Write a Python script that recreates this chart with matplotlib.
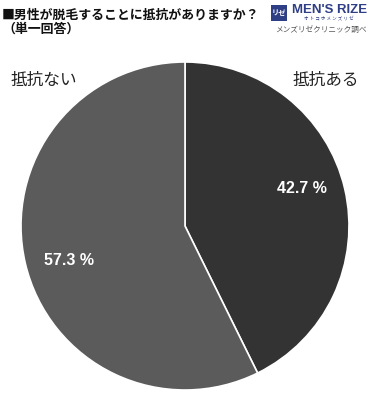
import matplotlib
matplotlib.use('Agg')
import matplotlib.pyplot as plt
from matplotlib.patches import FancyBboxPatch

plt.rcParams['font.family']=['Noto Sans CJK JP','DejaVu Sans']

labels=['抵抗ある','抵抗ない']
values=[42.7,57.3]
colors=['#333333','#5b5b5b']
title='■男性が脱毛することに抵抗がありますか？'
subtitle='（単一回答）'
source='メンズリゼクリニック調べ'

W,H=370,400
fig=plt.figure(figsize=(W/100,H/100),dpi=100)
cx,cy,r=185,226,164
ax=fig.add_axes([(cx-r)/W,(H-cy-r)/H,2*r/W,2*r/H])
wedges,_,autotexts=ax.pie(values,colors=colors,startangle=90,counterclock=False,
    autopct=lambda p:f'{p:.1f} %',pctdistance=0.75,
    wedgeprops=dict(edgecolor='white',linewidth=1.2),
    textprops=dict(color='white',fontsize=11.5,fontweight='bold',family=['Liberation Sans','DejaVu Sans']))
# nudge the percentage labels to where the original puts them
autotexts[0].set_position((0.71,0.23))
autotexts[1].set_position((-0.71,-0.21))
ax.set_xlim(-1,1);ax.set_ylim(-1,1);ax.set_aspect('equal')
ax.text(0.86,0.89,labels[0],ha='center',va='center',fontsize=12,color='#222222')
ax.text(-0.86,0.89,labels[1],ha='center',va='center',fontsize=12,color='#222222')

fig.text(2/W,1-15/H,title,ha='left',va='center',fontsize=9.3,fontweight='bold',color='#111111')
fig.text(2/W,1-29/H,subtitle,ha='left',va='center',fontsize=9.3,fontweight='bold',color='#111111')

# logo
fig.patches.append(FancyBboxPatch((271/W,1-21/H),16/W,16/H,boxstyle='square,pad=0',
    transform=fig.transFigure,facecolor='#2f3f86',edgecolor='none'))
fig.text(279/W,1-13/H,'リゼ',ha='center',va='center',fontsize=5.2,fontweight='bold',color='white')
fig.text(292/W,1-10/H,"MEN'S RIZE",ha='left',va='center',fontsize=9.5,fontweight='bold',color='#2f3f86',family=['Liberation Sans'])
fig.text(329/W,1-19/H,'オ ト コ ホ メ ン ズ リ ゼ',ha='center',va='center',fontsize=3.3,color='#2f3f86')
fig.text(321/W,1-30/H,source,ha='center',va='center',fontsize=5.5,color='#555555')

fig.savefig('out.png',dpi=100)
